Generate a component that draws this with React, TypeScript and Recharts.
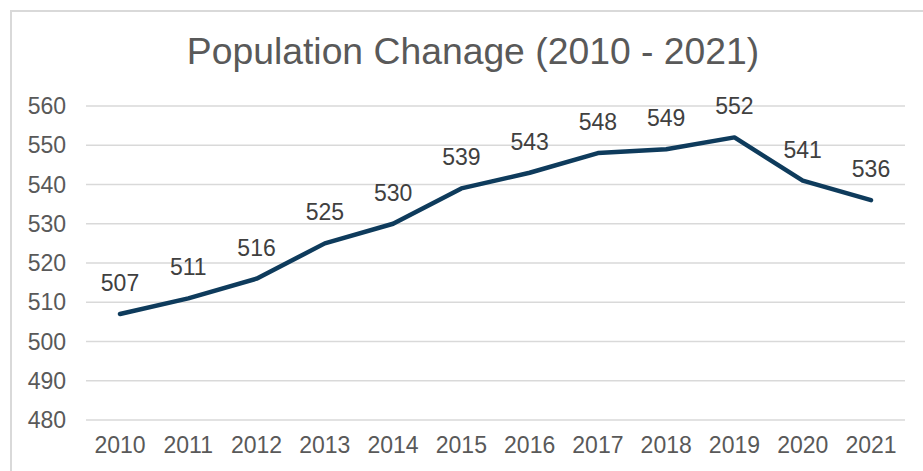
import { LineChart, Line, XAxis, YAxis, CartesianGrid, LabelList } from 'recharts';

const years = ['2010', '2011', '2012', '2013', '2014', '2015', '2016', '2017', '2018', '2019', '2020', '2021'];
const population = [507, 511, 516, 525, 530, 539, 543, 548, 549, 552, 541, 536];
const yTicks = [480, 490, 500, 510, 520, 530, 540, 550, 560];

const data = years.map((year, i) => ({ year, population: population[i] }));

const font = '"Liberation Sans", Arial, sans-serif';

export default function App() {
  return (
    <div
      style={{
        position: 'absolute',
        left: 0,
        top: 0,
        width: 923,
        height: 471,
        overflow: 'hidden',
        background: '#ffffff',
        fontFamily: font,
      }}
    >
      {/* chart frame, only left and top edges fall inside the picture */}
      <div
        style={{
          position: 'absolute',
          left: 10,
          top: 10,
          width: 940,
          height: 490,
          border: '2px solid #d9d9d9',
          boxSizing: 'border-box',
        }}
      />
      <div
        style={{
          position: 'absolute',
          left: 0,
          top: 33,
          width: 946,
          textAlign: 'center',
          fontSize: 37.3,
          lineHeight: '37px',
          color: '#595959',
          whiteSpace: 'nowrap',
        }}
      >
        Population Chanage (2010 - 2021)
      </div>
      <div style={{ position: 'absolute', left: 0, top: 0 }}>
        <LineChart width={923} height={471} data={data} margin={{ top: 106, right: 18, left: 0, bottom: 0 }}>
          <CartesianGrid vertical={false} stroke="#d9d9d9" strokeWidth={1.5} />
          <XAxis
            dataKey="year"
            height={51}
            padding={{ left: 34, right: 34 }}
            axisLine={false}
            tickLine={false}
            tickSize={0}
            tickMargin={17}
            interval={0}
            tick={{ fill: '#595959', fontSize: 23, fontFamily: font }}
          />
          <YAxis
            width={86}
            domain={[480, 560]}
            ticks={yTicks}
            axisLine={false}
            tickLine={false}
            tickSize={0}
            tickMargin={20}
            tick={{ fill: '#595959', fontSize: 23, fontFamily: font }}
          />
          <Line
            type="linear"
            dataKey="population"
            stroke="#0e3b5c"
            strokeWidth={4.5}
            strokeLinejoin="round"
            strokeLinecap="round"
            dot={false}
            activeDot={false}
            isAnimationActive={false}
          >
            <LabelList
              dataKey="population"
              position="top"
              offset={23}
              fill="#404040"
              fontSize={23}
              fontFamily={font}
            />
          </Line>
        </LineChart>
      </div>
    </div>
  );
}
